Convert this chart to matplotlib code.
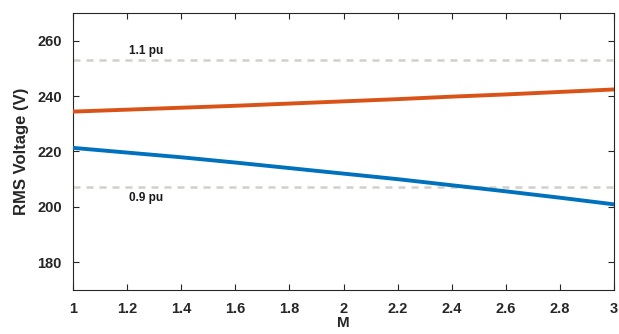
import numpy as np
import matplotlib
matplotlib.use("Agg")
import matplotlib.pyplot as plt

plt.rcParams['font.family'] = ['Liberation Sans', 'DejaVu Sans']
plt.rcParams['font.weight'] = 'bold'

# modulation index and rms voltages
m_vals = [1.0, 1.2, 1.4, 1.6, 1.8, 2.0, 2.2, 2.4, 2.6, 2.8, 3.0]
v_high = [234.4, 235.1, 235.8, 236.5, 237.3, 238.1, 238.9, 239.8, 240.6, 241.5, 242.4]
v_low = [221.3, 219.6, 217.9, 216.0, 214.0, 212.0, 210.0, 207.8, 205.6, 203.3, 200.9]
limits = [253, 207]
limit_labels = ["1.1 pu", "0.9 pu"]

x_ticks = [1, 1.2, 1.4, 1.6, 1.8, 2, 2.2, 2.4, 2.6, 2.8, 3]
x_ticklabels = ["1", "1.2", "1.4", "1.6", "1.8", "2", "2.2", "2.4", "2.6", "2.8", "3"]
y_ticks = [180, 200, 220, 240, 260]

fg = '#262626'

fig = plt.figure(figsize=(6.19, 3.34), dpi=100)
ax = fig.add_axes([0.118, 0.132, 0.874, 0.829])

for lim in limits:
	ax.axhline(lim, color='#d3d0cb', lw=1.8, ls=(0, (2.8, 2.4)), zorder=1)
ax.text(1.27, limits[0] + 1.0, limit_labels[0], fontsize=8.5, fontweight='bold', color='#1a1a1a', ha='center', va='bottom')
ax.text(1.27, limits[1] - 1.8, limit_labels[1], fontsize=8.5, fontweight='bold', color='#1a1a1a', ha='center', va='top')

ax.plot(m_vals, v_high, color='#D95319', lw=2.8, zorder=3)
ax.plot(m_vals, v_low, color='#0072BD', lw=2.8, zorder=3)

ax.set_xlim(1, 3)
ax.set_ylim(170, 270)
ax.set_xticks(x_ticks)
ax.set_xticklabels(x_ticklabels)
ax.set_yticks(y_ticks)
ax.tick_params(direction='in', top=True, right=True, length=4, width=0.8, colors=fg, labelsize=10.5)
ax.tick_params(axis='x', pad=9)
ax.tick_params(axis='y', pad=8)
for s in ax.spines.values():
	s.set_color(fg)
	s.set_linewidth(0.8)

ax.set_xlabel('M', fontsize=11, fontweight='bold', color=fg, labelpad=0)
ax.set_ylabel('RMS Voltage (V)', fontsize=12, fontweight='bold', color=fg, labelpad=6)

fig.savefig('out.png', dpi=100)
